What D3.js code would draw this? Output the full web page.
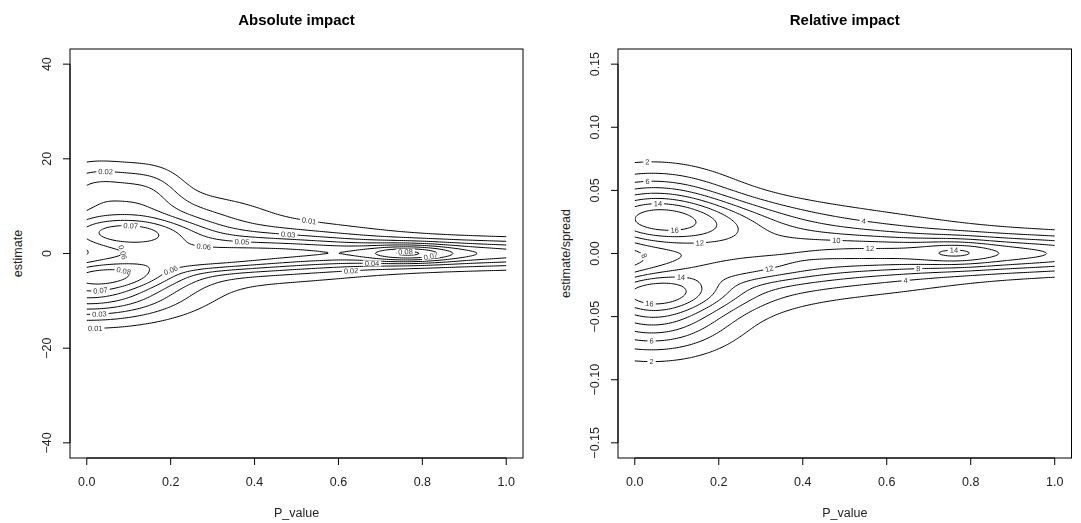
<!DOCTYPE html>
<html>
<head>
<meta charset="utf-8">
<script src="https://cdn.jsdelivr.net/npm/d3@7"></script>
<style>
  body { margin: 0; background: #fff; }
  text { font-family: "Liberation Sans", Arial, sans-serif; }
</style>
</head>
<body>
<svg id="chart" width="1081" height="523"></svg>
<script>
// axis ticks
const pTicks = [0, 0.2, 0.4, 0.6, 0.8, 1.0];
const absTicks = [-40, -20, 0, 20, 40];
const relTicks = [-0.15, -0.10, -0.05, 0, 0.05, 0.10, 0.15];

// contour levels
const absLevels = [0.01, 0.02, 0.03, 0.04, 0.05, 0.06, 0.07, 0.08, 0.09];
const relLevels = [2, 4, 6, 8, 10, 12, 14, 16, 18];

// density bumps: [P_value, y, spread P, spread y, height]
const absPeaks = [
  [0.10, 4.6, 0.12, 2.2, 0.028],
  [0.05, 5.0, 0.15, 5.0, 0.035],
  [0.02, 14.0, 0.07, 3.9, 0.024],
  [0.15, 13.5, 0.06, 3.9, 0.018],
  [0.30, 9.0, 0.13, 3.0, 0.007],
  [0.06, -4.4, 0.12, 2.0, 0.029],
  [0.00, -7.8, 0.15, 4.2, 0.060],
  [0.40, 0.5, 0.22, 3.2, 0.038],
  [0.30, 0.0, 0.30, 6.5, 0.010],
  [0.90, 0.0, 0.30, 2.0, 0.045],
  [0.77, 0.0, 0.07, 1.3, 0.029],
  [0.28, -1.8, 0.12, 1.6, 0.015]
];
const relPeaks = [
  [0.10, 0.025, 0.19, 0.014, 8.3],
  [0.04, 0.036, 0.13, 0.021, 9],
  [0.05, -0.029, 0.13, 0.011, 7.6],
  [0.04, -0.045, 0.13, 0.022, 11],
  [0.42, 0.000, 0.26, 0.020, 8.5],
  [0.90, 0.000, 0.30, 0.010, 9.5],
  [0.77, 0.001, 0.06, 0.007, 2.3],
  [0.28, -0.030, 0.13, 0.015, 1.5],
  [0.25, -0.012, 0.12, 0.008, 3.8]
];

// contour labels: [level, P_value, y] near where each label sits
const absLabels = [
  [0.02, 0.044, 17.0], [0.07, 0.104, 5.4], [0.06, 0.115, 1.5], [0.05, 0.056, 0.6],
  [0.06, 0.278, 1.0], [0.06, 0.191, -1.1], [0.08, 0.087, -4.0], [0.07, 0.032, -7.5],
  [0.03, 0.032, -12.3], [0.01, 0.022, -16.2], [0.01, 0.53, 7.0], [0.03, 0.48, 4.0],
  [0.05, 0.37, 2.0], [0.08, 0.76, 0.5], [0.07, 0.82, 0.0], [0.04, 0.68, -3.2],
  [0.02, 0.63, -4.9]
];
const relLabels = [
  [2, 0.032, 0.071], [6, 0.032, 0.055], [14, 0.056, 0.038], [16, 0.096, 0.0156],
  [12, 0.155, 0.0077], [10, 0.199, 0.0029], [8, 0.048, 0.0037], [6, 0.012, -0.0082],
  [12, 0.318, -0.0103], [14, 0.108, -0.0174], [16, 0.036, -0.0367], [6, 0.040, -0.0684],
  [2, 0.040, -0.088], [4, 0.544, 0.0267], [10, 0.481, 0.0156], [12, 0.56, 0.0103],
  [8, 0.674, -0.0166], [4, 0.646, -0.0253], [14, 0.76, 0.0008]
];

const svg = d3.select('#chart');

function density(peaks, p, v) {
  let s = 0;
  for (const [cp, cv, sp, sv, h] of peaks) {
    const a = (p - cp) / sp, b = (v - cv) / sv;
    s += h * Math.exp(-0.5 * (a * a + b * b));
  }
  return s;
}

function drawPanel(o) {
  const x = d3.scaleLinear().domain([-0.04, 1.04]).range([o.left, o.right]);
  const y = d3.scaleLinear().domain([-o.yLim * 1.08, o.yLim * 1.08]).range([o.bottom, o.top]);
  const g = svg.append('g');

  // density grid, a bit wider than [0, 1] so the closing edges fall outside the clip
  const nx = 241, ny = 361;
  const p0 = -0.1, p1 = 1.1, v0 = -o.yLim * 1.1, v1 = o.yLim * 1.1;
  const dp = (p1 - p0) / (nx - 1), dv = (v1 - v0) / (ny - 1);
  const values = new Array(nx * ny);
  for (let j = 0; j < ny; j++) {
    for (let i = 0; i < nx; i++) {
      values[j * nx + i] = density(o.peaks, p0 + i * dp, v0 + j * dv);
    }
  }
  const contours = d3.contours().size([nx, ny]).thresholds(o.levels)(values);
  const toPx = ([gx, gy]) => [x(p0 + (gx - 0.5) * dp), y(v0 + (gy - 0.5) * dv)];

  const clipId = 'clip' + o.id;
  svg.append('clipPath').attr('id', clipId)
    .append('rect')
    .attr('x', x(0)).attr('y', o.top)
    .attr('width', x(1) - x(0)).attr('height', o.bottom - o.top);

  const line = d3.line();
  const rings = new Map();
  contours.forEach(c => {
    const rs = [];
    c.coordinates.forEach(poly => poly.forEach(ring => rs.push(ring.map(toPx))));
    rings.set(c.value, rs);
  });

  g.append('g').attr('clip-path', `url(#${clipId})`)
    .selectAll('path')
    .data(contours)
    .join('path')
    .attr('fill', 'none')
    .attr('stroke', '#000')
    .attr('stroke-width', 1)
    .attr('d', c => rings.get(c.value).map(r => line(r) + 'Z').join(''));

  // contour labels, snapped onto the nearest point of their line
  const lab = g.append('g').style('opacity', 0.99);
  o.labels.forEach(([lev, lp, lv]) => {
    const key = o.levels.find(l => Math.abs(l - lev) < 1e-9);
    const rs = rings.get(key);
    if (!rs) return;
    const tx = x(lp), ty = y(lv);
    let best = null, bd = Infinity;
    rs.forEach(r => r.forEach((pt, k) => {
      if (pt[0] < x(0) + 3 || pt[0] > x(1) - 3) return;
      const d = (pt[0] - tx) ** 2 + (pt[1] - ty) ** 2;
      if (d < bd) { bd = d; best = { r, k }; }
    }));
    if (!best || bd > 400) return;
    const { r, k } = best;
    const n = r.length;
    const a = r[(k - 3 + n) % n], b = r[(k + 3) % n];
    let ang = Math.atan2(b[1] - a[1], b[0] - a[0]) * 180 / Math.PI;
    if (ang > 90) ang -= 180;
    if (ang < -90) ang += 180;
    const lg = lab.append('g').attr('transform', `translate(${r[k][0]},${r[k][1]}) rotate(${ang})`);
    const t = lg.append('text')
      .attr('text-anchor', 'middle')
      .attr('dy', '0.35em')
      .attr('font-size', 7.5)
      .attr('fill', '#333')
      .text(o.fmt(lev));
    const w = t.node().getComputedTextLength();
    lg.insert('rect', 'text')
      .attr('x', -w / 2 - 2).attr('y', -3)
      .attr('width', w + 4).attr('height', 6)
      .attr('fill', '#fff');
  });

  // box
  g.append('rect')
    .attr('x', o.left).attr('y', o.top)
    .attr('width', o.right - o.left).attr('height', o.bottom - o.top)
    .attr('fill', 'none').attr('stroke', '#000').attr('stroke-width', 1);

  // x axis
  const xa = g.append('g');
  xa.append('line').attr('x1', x(0)).attr('x2', x(1)).attr('y1', o.bottom).attr('y2', o.bottom).attr('stroke', '#000');
  xa.selectAll('.xt').data(pTicks).join('line')
    .attr('x1', d => x(d)).attr('x2', d => x(d))
    .attr('y1', o.bottom).attr('y2', o.bottom + 7).attr('stroke', '#000');
  xa.selectAll('.xl').data(pTicks).join('text')
    .attr('x', d => x(d)).attr('y', o.bottom + 24)
    .attr('dy', '0.35em').attr('text-anchor', 'middle')
    .attr('font-size', 12.5).attr('fill', '#222')
    .text(d3.format('.1f'));

  // y axis
  const ya = g.append('g');
  ya.append('line').attr('x1', o.left).attr('x2', o.left)
    .attr('y1', y(o.yTicks[0])).attr('y2', y(o.yTicks[o.yTicks.length - 1])).attr('stroke', '#000');
  ya.selectAll('.yt').data(o.yTicks).join('line')
    .attr('x1', o.left - 7).attr('x2', o.left)
    .attr('y1', d => y(d)).attr('y2', d => y(d)).attr('stroke', '#000');
  ya.selectAll('.yl').data(o.yTicks).join('text')
    .attr('transform', d => `translate(${o.left - 23},${y(d)}) rotate(-90)`)
    .attr('dy', '0.35em').attr('text-anchor', 'middle')
    .attr('font-size', 12.5).attr('fill', '#222')
    .text(o.yFmt);

  // titles
  g.append('text')
    .attr('x', (o.left + o.right) / 2).attr('y', 20).attr('dy', '0.35em')
    .attr('text-anchor', 'middle').attr('font-size', 15).attr('font-weight', 'bold')
    .text(o.title);
  g.append('text')
    .attr('x', (o.left + o.right) / 2).attr('y', 513).attr('dy', '0.35em')
    .attr('text-anchor', 'middle').attr('font-size', 12.5).attr('fill', '#222')
    .text('P_value');
  g.append('text')
    .attr('transform', `translate(${o.left - 52},${(o.top + o.bottom) / 2}) rotate(-90)`)
    .attr('dy', '0.35em').attr('text-anchor', 'middle')
    .attr('font-size', 12.5).attr('fill', '#222')
    .text(o.yLabel);
}

drawPanel({
  id: 'abs', left: 70, right: 523, top: 49, bottom: 458,
  yLim: 40, yTicks: absTicks, yFmt: d3.format('d'),
  title: 'Absolute impact', yLabel: 'estimate',
  peaks: absPeaks, levels: absLevels, labels: absLabels, fmt: d3.format('.2f')
});
drawPanel({
  id: 'rel', left: 618, right: 1071.5, top: 49, bottom: 458,
  yLim: 0.15, yTicks: relTicks, yFmt: d3.format('.2f'),
  title: 'Relative impact', yLabel: 'estimate/spread',
  peaks: relPeaks, levels: relLevels, labels: relLabels, fmt: d3.format('d')
});
</script>
</body>
</html>
